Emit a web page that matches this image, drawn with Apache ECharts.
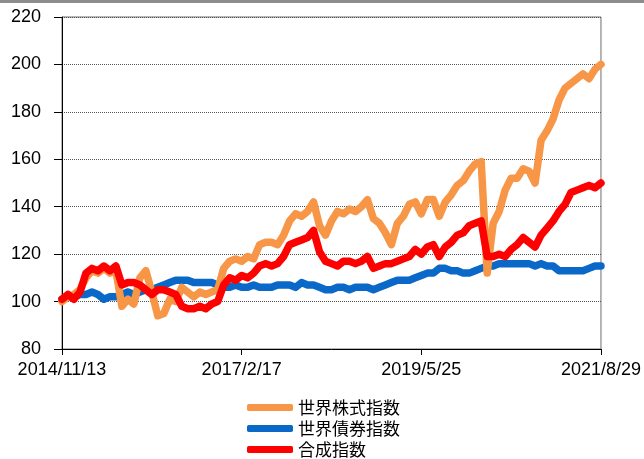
<!DOCTYPE html>
<html>
<head>
<meta charset="utf-8">
<script src="https://cdn.jsdelivr.net/npm/echarts@6/dist/echarts.min.js"></script>
<style>
    body{margin:0;background:#fff;}
    #echarts{width:644px;height:459px;}
</style>
</head>
<body>
<div id="echarts"></div>
<script>
// x軸ラベル（2014/11/13 から 827日ごと）
var tickLabels = ['2014/11/13', '2017/2/17', '2019/5/25', '2021/8/29'];
var totalDays = 2481;
var tickDays = 827;

// 世界株式指数
var stockData = [100, 102, 103, 105, 110, 113, 112, 114, 112, 113,
                 98, 101, 99, 110, 113, 104, 94, 95, 101, 100,
                 106, 104, 102, 104, 103, 104, 105, 114, 117, 118,
                 117, 119, 118, 124, 125, 125, 124, 128, 134, 137,
                 136, 138, 142, 132, 128, 134, 138, 137, 139, 138,
                 140, 143, 135, 133, 129, 124, 133, 136, 141, 142,
                 137, 143, 143, 136, 142, 145, 149, 151, 155, 158,
                 159, 112, 133, 138, 147, 152, 152, 156, 155, 150,
                 168, 172, 177, 185, 190, 192, 194, 196, 194, 198, 200];
// 世界債券指数
var bondData = [101, 102, 102, 103, 103, 104, 103, 101, 102, 102,
                103, 104, 103, 104, 105, 105, 106, 107, 108, 109,
                109, 109, 108, 108, 108, 108, 107, 106, 106, 107,
                106, 106, 107, 106, 106, 106, 107, 107, 107, 106,
                108, 107, 107, 106, 105, 105, 106, 106, 105, 106,
                106, 106, 105, 106, 107, 108, 109, 109, 109, 110,
                111, 112, 112, 114, 114, 113, 113, 112, 112, 113,
                114, 115, 115, 116, 116, 116, 116, 116, 116, 115,
                116, 115, 115, 113, 113, 113, 113, 113, 114, 115, 115];
// 合成指数
var mixData = [101, 103, 101, 104, 112, 114, 113, 115, 113, 115,
               107, 108, 108, 107, 105, 103, 105, 105, 104, 103,
               98, 97, 97, 98, 97, 99, 100, 107, 110, 109,
               111, 110, 112, 115, 116, 115, 116, 119, 124, 125,
               126, 127, 130, 121, 117, 116, 115, 117, 117, 116,
               117, 119, 114, 115, 116, 116, 117, 118, 119, 122,
               120, 123, 124, 119, 123, 125, 128, 129, 132, 133,
               134, 119, 119, 120, 119, 122, 124, 127, 125, 123,
               128, 131, 134, 138, 141, 146, 147, 148, 149, 148, 150];

var names = ['世界株式指数', '世界債券指数', '合成指数'];
var colors = ['#f79646', '#0a68c9', '#ff0000'];

function toPoints(arr){
    var step = totalDays / (arr.length - 1);
    return arr.map(function(v, i){ return [i * step, v]; });
}

function lineSeries(name, color, arr){
    return {
        name: name,
        type: 'line',
        data: toPoints(arr),
        showSymbol: false,
        symbol: 'none',
        color: color,
        lineStyle: {width: 7.5, color: color, cap: 'round', join: 'round'},
        animation: false
    };
}

var option = {
    backgroundColor: '#fff',
    graphic: [{   //上部の灰色の線
        type: 'rect',
        shape: {x: 0, y: 0, width: 644, height: 3},
        style: {fill: '#8c8c8c'}
    }],
    grid: {
        left: 62,
        right: 42,
        top: 17,
        bottom: 110,
        show: true,
        borderColor: '#6e6e6e',
        borderWidth: 1
    },
    legend: {
        data: names,
        orient: 'vertical',
        left: 247,
        top: 399,
        width: 200,
        height: 100,
        padding: 0,
        icon: 'roundRect',
        itemWidth: 46,
        itemHeight: 7,
        itemGap: 4,
        textStyle: {
            fontSize: 17,
            lineHeight: 14,
            color: '#000',
            fontFamily: 'Noto Sans CJK JP'
        }
    },
    xAxis: {
        type: 'value',
        min: 0,
        max: totalDays,
        interval: tickDays,
        axisLine: {lineStyle: {color: '#000', width: 1}},
        axisTick: {show: true, length: 6, lineStyle: {color: '#000'}},
        splitLine: {show: false},
        axisLabel: {
            margin: 12,
            fontSize: 18,
            color: '#000',
            fontFamily: 'Liberation Sans',
            formatter: function(v){
                return tickLabels[Math.round(v / tickDays)];
            }
        }
    },
    yAxis: {
        type: 'value',
        min: 80,
        max: 220,
        interval: 20,
        axisLine: {show: true, lineStyle: {color: '#000', width: 1}},
        axisTick: {show: true, length: 8, lineStyle: {color: '#000'}},
        splitLine: {show: true, lineStyle: {color: '#555', type: 'dotted', width: 1}},
        axisLabel: {
            margin: 21,
            fontSize: 18,
            color: '#000',
            fontFamily: 'Liberation Sans'
        }
    },
    series: [
        lineSeries(names[1], colors[1], bondData),
        lineSeries(names[0], colors[0], stockData),
        lineSeries(names[2], colors[2], mixData)
    ]
};

var myChart = echarts.init(document.getElementById('echarts'));
myChart.setOption(option);
</script>
</body>
</html>
